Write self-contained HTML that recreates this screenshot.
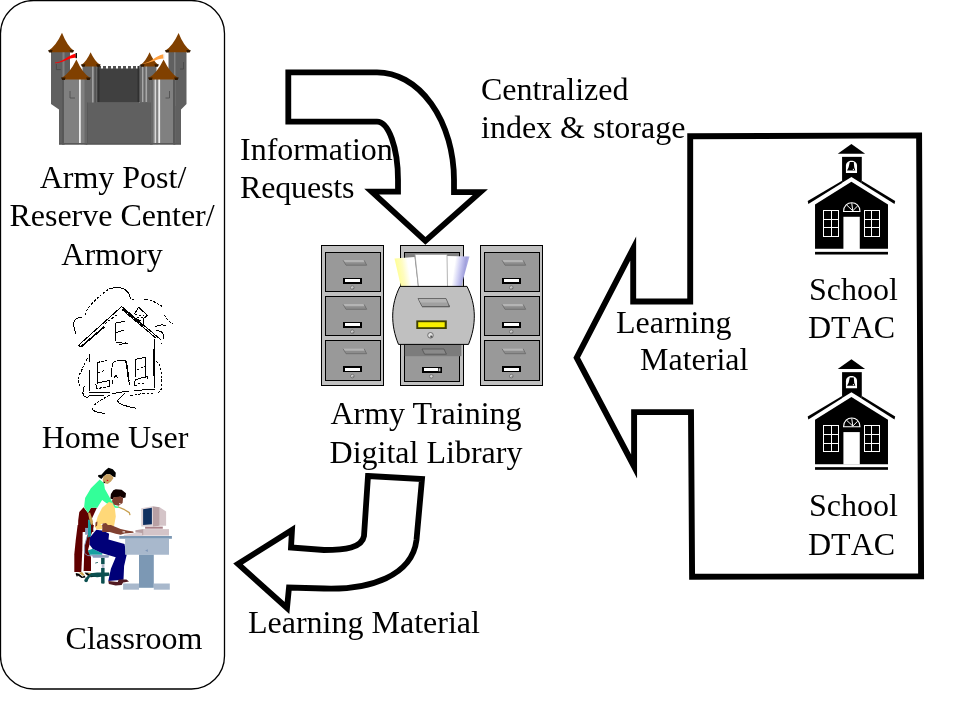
<!DOCTYPE html>
<html>
<head>
<meta charset="utf-8">
<title>Army Training Digital Library</title>
<style>
  html, body { margin: 0; padding: 0; background: #ffffff; }
  body { width: 959px; height: 719px; overflow: hidden; position: relative; font-family: "Liberation Serif", serif; }
  svg { position: absolute; left: 0; top: 0; display: block; }
  text { font-family: "Liberation Serif", serif; font-size: 32px; fill: #000; }
</style>
</head>
<body>
<svg width="959" height="719" viewBox="0 0 959 719">
  <rect x="0" y="0" width="959" height="719" fill="#ffffff"/>

  <!-- ===== left rounded panel ===== -->
  <rect x="0.5" y="0.5" width="224" height="688.5" rx="33" ry="33" fill="none" stroke="#000" stroke-width="1.3"/>


  <!-- ===== CASTLE ===== -->
  <g id="castle" shape-rendering="geometricPrecision">
    <!-- back towers -->
    <path d="M51 51 L70 51 L70 112 L59 112 L59 109.5 L51 104 Z" fill="#606060"/>
    <rect x="62.5" y="51" width="2" height="50" fill="#808080"/>
    <path d="M168.5 51 L186.5 51 L186.5 104 L181 109.5 L181 112 L168.5 112 Z" fill="#606060"/>
    <rect x="174" y="51" width="1.5" height="55" fill="#808080"/>
    <!-- side base blocks -->
    <rect x="59" y="106" width="6" height="38.5" fill="#606060"/>
    <rect x="174" y="106" width="7" height="38.5" fill="#606060"/>
    <!-- inner small towers -->
    <rect x="82.5" y="65" width="16" height="40" fill="#686868"/>
    <rect x="92" y="66" width="1.6" height="37" fill="#a0a0a0"/>
    <rect x="94.6" y="66" width="1.2" height="37" fill="#505050"/>
    <rect x="139.5" y="65" width="17" height="40" fill="#686868"/>
    <rect x="142" y="66" width="1.4" height="36" fill="#a8a8a8"/>
    <rect x="145.5" y="66" width="1.6" height="36" fill="#a8a8a8"/>
    <!-- central dark wall with crenellations -->
    <rect x="97.5" y="68.5" width="42" height="34" fill="#404040"/>
    <path d="M98 69 v-3 h3 v3 h2 v-3 h3 v3 h2 v-3 h3 v3 h2 v-3 h3 v3 h2 v-3 h3 v3 h2 v-3 h3 v3 h2 v-3 h3 v3 h2 v-3 h3 v3 Z" fill="#505050"/>
    <rect x="97.5" y="66" width="2" height="36" fill="#303030"/>
    <rect x="137.5" y="66" width="2" height="36" fill="#303030"/>
    <path d="M98 102 h41 v1.6 h-41 Z" fill="#585858"/>
    <!-- lower front wall -->
    <rect x="86" y="102.5" width="66" height="42" fill="#606060"/>
    <rect x="86" y="102.5" width="1.5" height="42" fill="#505050"/>
    <rect x="150" y="102.5" width="1.5" height="42" fill="#505050"/>
    <!-- front towers -->
    <rect x="62" y="78" width="25" height="66.5" fill="#808080"/>
    <rect x="62" y="78" width="2" height="66.5" fill="#585858"/>
    <rect x="84.5" y="78" width="2.5" height="66.5" fill="#686868"/>
    <rect x="79" y="79" width="1.8" height="65.5" fill="#ececec"/>
    <path d="M70 91 v7 h5" fill="none" stroke="#505050" stroke-width="0.9"/>
    <rect x="150.8" y="78" width="24.5" height="66.5" fill="#808080"/>
    <rect x="150.8" y="78" width="2.2" height="66.5" fill="#686868"/>
    <rect x="173" y="78" width="2.3" height="66.5" fill="#585858"/>
    <rect x="154.6" y="79" width="1.5" height="65.5" fill="#d8d8d8"/>
    <rect x="158.3" y="79" width="1.8" height="65.5" fill="#ececec"/>
    <path d="M169.5 91 v7 h-4" fill="none" stroke="#505050" stroke-width="0.9"/>
    <path d="M56.4 64 v5.6 h4.4" fill="none" stroke="#484848" stroke-width="0.9"/>
    <path d="M183.5 62 v7 h-3.5" fill="none" stroke="#484848" stroke-width="0.9"/>
    <!-- bottom shadow line -->
    <rect x="59" y="143" width="122" height="1.6" fill="#585858"/>
    <!-- roofs (back, inner, front) -->
    <path d="M62.0 32.8 Q56.2 45.6 48.6 50.6 L51.0 52.2 L71.19999999999999 52.2 L73.6 50.6 Q67.0 45.6 62.0 32.8 Z" fill="#804000"/>
    <path d="M48.0 50.2 L52.6 50.0 L51.800000000000004 52.6 L49.2 52.6 Z" fill="#301800"/>
    <path d="M74.19999999999999 50.2 L69.6 50.0 L70.39999999999999 52.6 L73.0 52.6 Z" fill="#301800"/>
    <path d="M178.6 33 Q172.9 45.7 165.4 50.6 L167.8 52.2 L187.9 52.2 L190.3 50.6 Q183.6 45.7 178.6 33 Z" fill="#804000"/>
    <path d="M164.8 50.2 L169.4 50.0 L168.6 52.6 L166.0 52.6 Z" fill="#301800"/>
    <path d="M190.9 50.2 L186.3 50.0 L187.10000000000002 52.6 L189.70000000000002 52.6 Z" fill="#301800"/>
    <path d="M90.6 52.2 Q86.6 61.3 81.4 64.8 L83.80000000000001 66.39999999999999 L97.8 66.39999999999999 L100.2 64.8 Q94.7 61.3 90.6 52.2 Z" fill="#804000"/>
    <path d="M80.80000000000001 64.39999999999999 L85.4 64.2 L84.60000000000001 66.8 L82.0 66.8 Z" fill="#301800"/>
    <path d="M100.8 64.39999999999999 L96.2 64.2 L97.0 66.8 L99.60000000000001 66.8 Z" fill="#301800"/>
    <path d="M149.6 52.2 Q145.7 61.3 140.6 64.8 L143.0 66.39999999999999 L156.0 66.39999999999999 L158.4 64.8 Q153.4 61.3 149.6 52.2 Z" fill="#804000"/>
    <path d="M140.0 64.39999999999999 L144.6 64.2 L143.79999999999998 66.8 L141.2 66.8 Z" fill="#301800"/>
    <path d="M159.0 64.39999999999999 L154.4 64.2 L155.20000000000002 66.8 L157.8 66.8 Z" fill="#301800"/>
    <path d="M76.4 59.4 Q70.0 72.8 61.6 78.0 L64.0 79.6 L87.8 79.6 L90.2 78.0 Q82.3 72.8 76.4 59.4 Z" fill="#804000"/>
    <path d="M61.0 77.6 L65.6 77.4 L64.8 80.0 L62.2 80.0 Z" fill="#301800"/>
    <path d="M90.8 77.6 L86.2 77.4 L87.0 80.0 L89.60000000000001 80.0 Z" fill="#301800"/>
    <path d="M163.6 59.4 Q157.2 72.8 148.6 78.0 L151.0 79.6 L175.79999999999998 79.6 L178.2 78.0 Q169.9 72.8 163.6 59.4 Z" fill="#804000"/>
    <path d="M148.0 77.6 L152.6 77.4 L151.79999999999998 80.0 L149.2 80.0 Z" fill="#301800"/>
    <path d="M178.79999999999998 77.6 L174.2 77.4 L175.0 80.0 L177.6 80.0 Z" fill="#301800"/>
    <!-- flags -->
    <path d="M55 62.6 C62 62.5 66 57 75.5 53.6 L76 57.5 C68 58 63 63 55 63.2 Z" fill="#ff0000"/>
    <rect x="75.6" y="53" width="1.4" height="5.2" fill="#101010"/>
    <path d="M143 63.4 C152 62 155 56 163.5 54.2 L164 58.6 C156 59 152 63 143 63.8 Z" fill="#ffa040"/>
    <rect x="163.4" y="53.8" width="1.2" height="5.2" fill="#f0f0f0"/>
  </g>


  <!-- ===== FILE CABINETS ===== -->
  <g id="cabinets">
    <g>
      <rect x="321.2" y="245.2" width="62.5" height="140.3" fill="#c0c0c0" stroke="#000" stroke-width="1" shape-rendering="crispEdges"/>
      <rect x="325.2" y="252.3" width="54.8" height="39.4" fill="#999999" stroke="#000" stroke-width="1" shape-rendering="crispEdges"/>
      <path d="M343.1 260.0 L363.9 260.0 L366.7 265.2 L346.0 265.2 Z" fill="#8c8c8c"/>
      <path d="M343.1 260.0 L363.9 260.0 L365.1 262.2 L344.4 262.2 Z" fill="#b4b4b4"/>
      <path d="M343.1 260.3 L346.0 265.2 L366.7 265.2 L364.1 260.3" fill="none" stroke="#686868" stroke-width="0.8"/>
      <rect x="342.8" y="277.9" width="19" height="5.9" fill="#000" shape-rendering="crispEdges"/>
      <rect x="344.7" y="279.1" width="15.4" height="3" fill="#fff" shape-rendering="crispEdges"/>
      <circle cx="352.3" cy="287.6" r="1.8" fill="#d0d0d0" stroke="#606060" stroke-width="0.7"/>
      <rect x="352.5" y="287.7" width="1.3" height="1.3" fill="#707070"/>
      <rect x="325.2" y="296.4" width="54.8" height="39.4" fill="#999999" stroke="#000" stroke-width="1" shape-rendering="crispEdges"/>
      <path d="M343.1 304.1 L363.9 304.1 L366.7 309.3 L346.0 309.3 Z" fill="#8c8c8c"/>
      <path d="M343.1 304.1 L363.9 304.1 L365.1 306.3 L344.4 306.3 Z" fill="#b4b4b4"/>
      <path d="M343.1 304.4 L346.0 309.3 L366.7 309.3 L364.1 304.4" fill="none" stroke="#686868" stroke-width="0.8"/>
      <rect x="342.8" y="322.0" width="19" height="5.9" fill="#000" shape-rendering="crispEdges"/>
      <rect x="344.7" y="323.2" width="15.4" height="3" fill="#fff" shape-rendering="crispEdges"/>
      <circle cx="352.3" cy="331.7" r="1.8" fill="#d0d0d0" stroke="#606060" stroke-width="0.7"/>
      <rect x="352.5" y="331.8" width="1.3" height="1.3" fill="#707070"/>
      <rect x="325.2" y="340.8" width="54.8" height="39.4" fill="#999999" stroke="#000" stroke-width="1" shape-rendering="crispEdges"/>
      <path d="M343.1 348.5 L363.9 348.5 L366.7 353.7 L346.0 353.7 Z" fill="#8c8c8c"/>
      <path d="M343.1 348.5 L363.9 348.5 L365.1 350.7 L344.4 350.7 Z" fill="#b4b4b4"/>
      <path d="M343.1 348.8 L346.0 353.7 L366.7 353.7 L364.1 348.8" fill="none" stroke="#686868" stroke-width="0.8"/>
      <rect x="342.8" y="366.4" width="19" height="5.9" fill="#000" shape-rendering="crispEdges"/>
      <rect x="344.7" y="367.6" width="15.4" height="3" fill="#fff" shape-rendering="crispEdges"/>
      <circle cx="352.3" cy="376.1" r="1.8" fill="#d0d0d0" stroke="#606060" stroke-width="0.7"/>
      <rect x="352.5" y="376.2" width="1.3" height="1.3" fill="#707070"/>
    </g>
    <g>
      <rect x="400.2" y="245.2" width="63.3" height="140.3" fill="#c0c0c0" stroke="#000" stroke-width="1" shape-rendering="crispEdges"/>
      <!-- empty top slot -->
      <rect x="404.3" y="252.3" width="55" height="36" fill="#808080" stroke="#000" stroke-width="1" shape-rendering="crispEdges"/>
      <!-- bottom drawer (partly shadowed) -->
      <rect x="404.3" y="344.5" width="55" height="36.6" fill="#999999" stroke="#000" stroke-width="1" shape-rendering="crispEdges"/>
      <rect x="404.8" y="344.6" width="56.6" height="11.6" fill="#7c7c7c"/>
      <path d="M422 349 L444 349 L446.4 354.2 L424.6 354.2 Z" fill="#8a8a8a" stroke="#505050" stroke-width="0.8"/>
      <rect x="422" y="367" width="19.6" height="5.9" fill="#000" shape-rendering="crispEdges"/>
      <rect x="423.6" y="368.3" width="14" height="3" fill="#fff" shape-rendering="crispEdges"/>
      <rect x="438.6" y="368.3" width="1.8" height="3" fill="#c0c0c0"/>
      <circle cx="431.3" cy="376.3" r="1.8" fill="#d0d0d0" stroke="#606060" stroke-width="0.7"/>
    </g>
    <g>
      <rect x="480.2" y="245.2" width="62.5" height="140.3" fill="#c0c0c0" stroke="#000" stroke-width="1" shape-rendering="crispEdges"/>
      <rect x="484.2" y="252.3" width="54.8" height="39.4" fill="#999999" stroke="#000" stroke-width="1" shape-rendering="crispEdges"/>
      <path d="M502.1 260.0 L522.9 260.0 L525.7 265.2 L505.0 265.2 Z" fill="#8c8c8c"/>
      <path d="M502.1 260.0 L522.9 260.0 L524.1 262.2 L503.4 262.2 Z" fill="#b4b4b4"/>
      <path d="M502.1 260.3 L505.0 265.2 L525.7 265.2 L523.1 260.3" fill="none" stroke="#686868" stroke-width="0.8"/>
      <rect x="501.8" y="277.9" width="19" height="5.9" fill="#000" shape-rendering="crispEdges"/>
      <rect x="503.7" y="279.1" width="15.4" height="3" fill="#fff" shape-rendering="crispEdges"/>
      <circle cx="511.3" cy="287.6" r="1.8" fill="#d0d0d0" stroke="#606060" stroke-width="0.7"/>
      <rect x="511.5" y="287.7" width="1.3" height="1.3" fill="#707070"/>
      <rect x="484.2" y="296.4" width="54.8" height="39.4" fill="#999999" stroke="#000" stroke-width="1" shape-rendering="crispEdges"/>
      <path d="M502.1 304.1 L522.9 304.1 L525.7 309.3 L505.0 309.3 Z" fill="#8c8c8c"/>
      <path d="M502.1 304.1 L522.9 304.1 L524.1 306.3 L503.4 306.3 Z" fill="#b4b4b4"/>
      <path d="M502.1 304.4 L505.0 309.3 L525.7 309.3 L523.1 304.4" fill="none" stroke="#686868" stroke-width="0.8"/>
      <rect x="501.8" y="322.0" width="19" height="5.9" fill="#000" shape-rendering="crispEdges"/>
      <rect x="503.7" y="323.2" width="15.4" height="3" fill="#fff" shape-rendering="crispEdges"/>
      <circle cx="511.3" cy="331.7" r="1.8" fill="#d0d0d0" stroke="#606060" stroke-width="0.7"/>
      <rect x="511.5" y="331.8" width="1.3" height="1.3" fill="#707070"/>
      <rect x="484.2" y="340.8" width="54.8" height="39.4" fill="#999999" stroke="#000" stroke-width="1" shape-rendering="crispEdges"/>
      <path d="M502.1 348.5 L522.9 348.5 L525.7 353.7 L505.0 353.7 Z" fill="#8c8c8c"/>
      <path d="M502.1 348.5 L522.9 348.5 L524.1 350.7 L503.4 350.7 Z" fill="#b4b4b4"/>
      <path d="M502.1 348.8 L505.0 353.7 L525.7 353.7 L523.1 348.8" fill="none" stroke="#686868" stroke-width="0.8"/>
      <rect x="501.8" y="366.4" width="19" height="5.9" fill="#000" shape-rendering="crispEdges"/>
      <rect x="503.7" y="367.6" width="15.4" height="3" fill="#fff" shape-rendering="crispEdges"/>
      <circle cx="511.3" cy="376.1" r="1.8" fill="#d0d0d0" stroke="#606060" stroke-width="0.7"/>
      <rect x="511.5" y="376.2" width="1.3" height="1.3" fill="#707070"/>
    </g>
    <!-- papers in open drawer -->
    <defs>
      <linearGradient id="pgY" x1="0" x2="1" y1="0.2" y2="0">
        <stop offset="0" stop-color="#ffff90"/><stop offset="0.3" stop-color="#fffcc0"/><stop offset="0.55" stop-color="#ffffff"/><stop offset="1" stop-color="#ffffff"/>
      </linearGradient>
      <linearGradient id="pgB" x1="0" x2="1" y1="0" y2="0.2">
        <stop offset="0" stop-color="#ffffff"/><stop offset="0.4" stop-color="#ffffff"/><stop offset="0.62" stop-color="#d0d0f4"/><stop offset="0.85" stop-color="#a0a0dc"/><stop offset="1" stop-color="#b8b8ec"/>
      </linearGradient>
    </defs>
    <path d="M394.5 258.5 L414.5 257 L418 287 L401 287 Z" fill="url(#pgY)"/>
    <path d="M447 256 L469.5 256.5 L461 287 L446 287 Z" fill="url(#pgB)"/>
    <path d="M415 254.5 L447 254.5 L447.5 287 L418.5 287 Z" fill="#ffffff" stroke="#a0a0a0" stroke-width="0.8"/>
    <!-- open drawer front -->
    <path d="M400 286.4 L467 286.4 C476.5 305 476.5 325 468.5 344.4 L398.5 344.4 C390.5 325 390.5 305 400 286.4 Z" fill="#c0c0c0" stroke="#000" stroke-width="1"/>
    <path d="M418 298.5 L446 298.5 L449.5 306.5 L422 306.5 Z" fill="#a0a0a0" stroke="#585858" stroke-width="0.8"/>
    <path d="M418.6 299 L445.6 299 L447 302.4 L420.6 302.4 Z" fill="#b4b4b4"/>
    <path d="M422 306.8 L449.6 306.8 L448.6 304.6" stroke="#606060" stroke-width="1" fill="none"/>
    <rect x="416.3" y="320.4" width="30.5" height="8.6" fill="#404000"/>
    <rect x="418.2" y="322.2" width="26.5" height="5" fill="#f8f000"/>
    <circle cx="430.5" cy="335.3" r="2.8" fill="#e0e0e0" stroke="#585858" stroke-width="0.8"/>
    <rect x="430.3" y="335.6" width="2" height="2" fill="#505050"/>
  </g>


  <!-- ===== SCHOOLS ===== -->


  <!-- ===== HOUSE SKETCH ===== -->
  <g id="house" fill="none" stroke="#000" stroke-width="1" stroke-linecap="butt" stroke-linejoin="round" shape-rendering="crispEdges">
    <path d="M78.4 345.4 L121.7 306.5 L161.1 340.0"/>
    <path d="M121.7 309.3 L155.6 337.8"/>
    <path d="M78.4 345.4 L81.4 347.0"/>
    <path d="M134.3 314.2 L138.6 307.3 L147.4 315.3 L143.8 318.3 L143.1 324.8"/>
    <path d="M138.1 319.1 L140.3 320.8"/>
    <path d="M125.0 321.3 L115.8 323.1 L115.3 341.3"/>
    <path d="M115.8 332.5 L123.9 330.3"/>
    <path d="M116.2 342.8 L127.7 343.2"/>
    <path d="M119.5 344.6 L126.1 342.8"/>
    <path d="M155.1 327.0 Q158.9 324.6 162.3 324.9 L165.7 325.3"/>
    <path d="M155.6 330.1 Q161.1 331.2 162.5 332.8 Q163.9 334.5 163.9 337.0 L163.8 339.5"/>
    <path d="M75.7 333.6 Q72.8 324.6 74.2 321.4 Q75.7 318.3 79.0 317.6 L82.2 317.0"/>
    <path d="M108.5 289.1 Q114.0 287.4 117.3 287.4 Q120.6 287.4 123.3 288.7 Q126.1 290.0 127.7 292.0 Q129.3 294.0 129.9 296.7 L130.4 299.4"/>
    <path d="M144.1 299.4 L148.2 299.4"/>
    <path d="M154.5 338.9 L154.1 353.1"/>
    <path d="M81.1 344.9 L81.4 347.4"/>
    <path d="M89.7 354.3 L89.7 362.0"/>
    <path d="M89.4 370.2 L89.4 391.0"/>
    <path d="M84.4 385.7 Q82.7 391.0 83.0 393.5 Q83.3 396.0 85.3 396.8 Q87.3 397.6 88.4 396.7 L89.5 395.8"/>
    <path d="M89.4 392.3 L109.6 392.3"/>
    <path d="M89.5 395.4 L104.1 395.2"/>
    <path d="M111.8 393.8 Q119.5 392.1 124.0 391.8 L128.5 391.4"/>
    <path d="M133.7 391.0 L144.7 389.7 L154.7 389.0"/>
    <path d="M154.5 361.4 L154.7 387.9"/>
    <path d="M97.4 362.5 L97.4 383.6"/>
    <path d="M97.6 382.9 L109.6 380.6 L109.6 386.6"/>
    <path d="M95.9 384.0 L96.5 389.5"/>
    <path d="M111.6 376.8 Q111.6 363.1 113.9 361.8 Q116.2 360.6 121.1 360.8 L126.1 361.0"/>
    <path d="M128.9 381.4 L129.6 384.6"/>
    <path d="M112.4 380.0 L112.4 383.6"/>
    <path d="M114.0 377.9 L115.8 375.2 L117.9 377.9"/>
    <path d="M135.7 376.8 L135.7 359.2 L145.2 357.3 L145.8 377.0"/>
    <path d="M134.8 380.3 Q140.3 377.9 143.9 377.3 L147.5 376.8"/>
    <path d="M147.5 376.5 L147.7 378.5"/>
    <path d="M134.6 380.6 L134.6 385.3 L136.6 385.5"/>
    <path d="M92.3 407.7 Q92.6 410.3 94.7 411.2 Q96.7 412.0 100.7 412.8 L104.8 413.6"/>
    <path d="M125.0 393.2 Q118.6 398.7 117.9 400.3 Q117.3 402.0 120.0 403.6 Q122.8 405.2 129.3 406.8 L135.9 408.3"/>
    <g stroke-width="1.6">
      <path d="M81.1 346.7 L104.1 327.0"/>
      <path d="M122.8 308.4 L143.6 325.7"/>
      <path d="M153.8 349.4 L153.9 375.9"/>
      <path d="M126.1 361.0 L127.8 372.6 L128.9 381.4"/>
    </g>
    <g stroke-dasharray="2.4 1.6">
      <path d="M105.2 323.7 L118.4 313.4"/>
      <path d="M134.8 314.8 L143.6 315.4"/>
      <path d="M136.5 317.2 L143.8 317.2"/>
      <path d="M85.0 314.8 Q86.1 310.4 90.2 305.7 Q94.3 301.1 97.6 298.1 Q100.9 295.0 104.7 292.1 L108.5 289.1"/>
      <path d="M132.1 299.4 L133.7 299.6"/>
      <path d="M149.6 300.0 Q155.6 302.2 159.5 304.7 L163.3 307.3"/>
      <path d="M164.4 314.8 Q166.6 319.4 169.6 321.6 L172.7 323.7"/>
      <path d="M161.1 342.7 L161.8 344.3"/>
      <path d="M87.5 358.4 Q84.4 363.6 83.1 367.0 Q81.7 370.4 80.0 373.6 Q78.4 376.8 78.1 379.5 Q77.9 382.2 79.5 384.9 L81.1 387.5"/>
      <path d="M156.3 361.4 Q160.7 364.9 160.9 368.7 Q161.1 372.4 161.4 375.7 Q161.8 379.0 161.8 383.9 Q161.8 388.8 160.3 390.8 Q158.9 392.8 157.3 393.0 L155.6 393.2"/>
      <path d="M146.9 393.2 L154.7 393.2"/>
      <path d="M130.4 396.0 Q138.1 394.3 141.4 393.7 L144.7 393.2"/>
      <path d="M97.4 362.5 L107.0 360.3"/>
      <path d="M98.1 373.0 L103.7 370.6"/>
      <path d="M109.6 386.6 L96.7 388.6"/>
      <path d="M137.0 369.8 L144.7 366.5"/>
      <path d="M138.1 384.0 L143.8 383.3"/>
      <path d="M109.6 395.4 Q100.9 399.8 97.0 402.8 L93.2 405.9"/>
    </g>
  </g>


  <!-- ===== CLASSROOM CLIPART ===== -->
  <g id="classroom">
    <path d="M83.6 507.3 L79.3 511.9 L78.2 520.4 L78.0 532.0 L93.4 532.0 L93.0 524.3 L91.0 520.4 L96.9 507.8 L90.9 507.8 L88.0 513.1 Z" fill="#600000"/>
    <path d="M77.6 525.0 L82.8 525.0 L82.3 550.3 L81.3 571.9 L74.3 571.9 L74.3 554.2 L75.8 539.6 Z" fill="#600000"/>
    <path d="M90.8 525.0 L93.9 525.0 L92.6 530.8 L90.0 537.8 L89.5 544.5 L88.1 549.8 L91.0 557.3 L91.0 570.9 L83.6 570.9 L84.2 554.2 L84.6 545.4 L87.1 536.5 Z" fill="#600000"/>
    <path d="M85.1 527.9 L88.1 527.9 L88.1 534.7 L85.1 534.7 Z" fill="#8c9cbc"/>
    <path d="M88.0 519.4 L90.6 520.6 L90.9 532.0 L88.0 532.0 Z" fill="#18a0a0"/>
    <path d="M88.0 525.0 L91.0 525.0 L91.0 535.9 L88.1 537.6 Z" fill="#18a0a0"/>
    <path d="M87.1 536.5 L84.6 545.4 L84.6 553.4 L87.7 555.6 L92.6 555.7" fill="none" stroke="#8c9cbc" stroke-width="0.9" stroke-linecap="round" stroke-linejoin="round"/>
    <path d="M75.8 572.9 L79.0 573.7 L82.5 576.8 L84.6 575.6 L85.6 577.5 L81.7 578.0 L77.8 575.6 L77.0 577.1 L75.8 574.6 Z" fill="#000000"/>
    <path d="M84.6 572.5 L91.0 573.1 L93.4 574.1 L96.8 576.6 L90.9 577.3 L87.5 575.6 L85.6 574.1 Z" fill="#000000"/>
    <path d="M78.6 572.7 L82.1 572.1 L84.8 575.2 L82.8 575.8 Z" fill="#c8a050"/>
    <path d="M87.3 573.1 L90.8 572.9 L93.0 574.4 L90.0 574.8 Z" fill="#c8a050"/>
    <path d="M87.9 550.5 L92.6 548.8 L102.3 553.2 L102.3 554.8 L89.5 554.8 Z" fill="#18a0a0"/>
    <path d="M91.9 554.8 L109.1 555.2 L108.5 557.7 L93.0 557.7 Z" fill="#8c9cbc"/>
    <path d="M101.1 557.9 L104.6 557.9 L104.6 564.1 L101.1 564.1 Z" fill="#0c5050"/>
    <path d="M101.7 564.1 L104.4 564.1 L104.4 568.0 L101.7 568.0 Z" fill="#b0b8c8"/>
    <path d="M101.1 568.0 L104.6 568.0 L104.6 583.4 L101.1 583.4 Z" fill="#0c5050"/>
    <path d="M84.6 579.3 L87.1 576.6 L90.8 573.3 L97.2 572.5 L109.1 572.5 L109.5 575.8 L97.2 577.2 L91.6 576.4 L89.5 577.5 L87.5 580.7 Z" fill="#0c5050"/>
    <circle cx="86.1" cy="580.5" r="1.8" fill="#0c5050"/>
    <path d="M95.1 562.8 L97.8 562.0 L98.0 562.8 L95.3 563.5 Z" fill="#0c5050"/>
    <path d="M102.1 581.0 L104.1 581.0 L103.9 583.4 L102.3 583.4 Z" fill="#0c5050"/>
    <path d="M96.3 529.7 L103.3 530.8 L109.1 533.8 L108.5 539.6 L124.5 543.9 L126.6 555.2 L124.1 565.9 L123.5 579.7 L108.3 581.0 L110.9 568.8 L115.7 557.3 L102.3 553.2 L92.6 548.8 L89.5 544.5 L89.9 537.6 Z" fill="#000078"/>
    <path d="M108.3 581.0 L117.7 582.0 L118.7 579.5 L126.4 579.5 L129.0 581.4 L123.1 582.6 L121.6 584.9 L115.7 585.5 L108.9 584.0 Z" fill="#501820"/>
    <path d="M99.7 479.5 L103.9 482.9 L104.9 489.1 L110.4 498.8 L112.1 501.4 L115.8 506.3 L118.7 506.6 L118.7 508.0 L115.0 507.8 L108.5 504.8 L102.1 500.0 L97.3 507.8 L90.9 507.8 L88.0 513.0 L84.1 507.0 L85.1 498.0 L90.9 488.3 Z" fill="#33ff99"/>
    <path d="M88.0 513.1 L90.1 512.6 L93.0 521.4 L92.4 525.3 L90.8 524.3 L89.1 518.5 Z" fill="#c8a050"/>
    <path d="M118.4 507.0 L124.6 509.7 L129.3 512.6 L129.9 514.7" fill="none" stroke="#c8a050" stroke-width="1.3" stroke-linecap="round" stroke-linejoin="round"/>
    <path d="M108.5 467.8 L112.8 469.2 L115.8 472.7 L115.4 477.2 L112.8 476.6 L109.9 474.2 L106.5 474.2 L103.6 476.6 L101.4 479.1 L98.2 476.8 L98.2 475.0 L101.4 474.7 L105.1 470.4 Z" fill="#000000"/>
    <path d="M106.5 474.2 L109.9 474.2 L112.8 476.6 L113.4 478.2 L110.9 481.5 L107.6 484.0 L104.1 482.9 L102.6 480.1 L103.6 476.6 Z" fill="#c8a060"/>
    <path d="M106.8 479.7 L108.4 479.9 L108.0 481.1 L106.8 480.9 Z" fill="#e00020"/>
    <path d="M103.6 481.5 L105.1 482.0 L104.6 483.2 L103.4 482.6 Z" fill="#000000"/>
    <path d="M108.9 501.9 L112.5 502.9 L114.8 507.8 L115.8 516.5 L114.0 526.3 L108.9 527.0 L104.1 522.9 L101.2 524.3 L96.5 528.4 L94.7 526.8 L97.7 516.5 L102.1 507.8 Z" fill="#ffd878"/>
    <path d="M95.5 525.0 L102.1 525.0 L102.1 528.9 L96.3 529.7 Z" fill="#ffd878"/>
    <path d="M102.6 523.5 L106.0 522.9 L109.1 526.3 L114.0 529.2 L120.6 530.2 L126.0 532.0 L102.1 532.0 Z" fill="#804030"/>
    <path d="M102.1 525.0 L110.9 525.0 L120.6 529.1 L128.4 530.8 L133.2 531.4 L133.7 532.8 L124.5 533.6 L120.6 534.7 L115.7 533.8 L108.9 531.8 L103.1 528.9 Z" fill="#804030"/>
    <path d="M122.5 531.4 L125.1 531.4 L125.1 532.4 L122.5 532.4 Z" fill="#ffffff"/>
    <path d="M95.5 522.4 L97.5 521.4 L97.1 525.3 L95.5 527.0 Z" fill="#804030"/>
    <path d="M115.8 489.3 L121.6 489.7 L126.0 493.2 L125.5 497.6 L123.1 498.0 L120.6 496.7 L113.8 497.6 L112.8 499.6 L110.4 498.6 L110.9 494.1 L113.3 490.2 Z" fill="#100000"/>
    <path d="M113.6 497.2 L120.8 496.5 L123.1 498.0 L122.6 502.9 L118.7 505.8 L114.0 504.8 L111.9 501.1 L112.8 499.4 Z" fill="#804030"/>
    <path d="M119.2 503.1 L120.6 503.3 L120.4 504.5 L119.2 504.3 Z" fill="#ffffff"/>
    <path d="M119.3 535.9 L171.9 535.9 L171.9 538.7 L119.3 538.7 Z" fill="#7c98b4"/>
    <path d="M125.1 538.7 L169.0 538.7 L169.0 554.7 L125.1 554.7 Z" fill="#a8b8cc"/>
    <path d="M139.0 554.7 L153.8 554.7 L153.8 587.8 L139.0 587.8 Z" fill="#7c98b4"/>
    <path d="M123.1 583.5 L139.0 583.5 L139.0 589.7 L123.1 589.7 Z" fill="#a8b8cc"/>
    <path d="M153.8 583.5 L169.8 583.5 L169.8 589.7 L153.8 589.7 Z" fill="#a8b8cc"/>
    <path d="M145.1 550.5 L147.8 549.2 L147.8 551.9 Z" fill="#8098b8"/>
    <path d="M143.6 529.1 L169.0 529.1 L169.0 535.6 L143.6 535.6 Z" fill="#d4c4c8"/>
    <path d="M135.4 530.3 L143.6 529.1 L143.6 535.6 L142.0 535.6 L142.0 533.0 L135.4 532.6 Z" fill="#b8a0a4"/>
    <path d="M123.7 535.0 L135.0 533.0 L142.2 533.0 L142.2 535.9 L123.7 535.9 Z" fill="#dcd0d4"/>
    <path d="M145.1 526.6 L162.8 526.6 L162.8 528.7 L145.1 528.7 Z" fill="#a88088"/>
    <path d="M159.7 507.2 L166.1 511.6 L166.1 525.8 L159.7 525.8 Z" fill="#d4c4c8"/>
    <path d="M152.4 506.2 L159.7 507.2 L159.7 525.8 L152.9 526.4 Z" fill="#b8a0a4"/>
    <path d="M141.2 508.3 L152.4 506.2 L152.9 526.4 L141.2 526.4 Z" fill="#dcd0d4"/>
    <path d="M143.1 509.3 L151.9 507.7 L151.9 524.3 L143.1 524.9 Z" fill="#103060"/>
  </g>

  <!-- ===== ARROWS ===== -->
  <g id="arrows" fill="#ffffff" stroke="#000" stroke-width="5.8" stroke-linejoin="miter" stroke-miterlimit="10">
    <!-- information requests: curved down arrow -->
    <path d="M288.3 72.3 L377 72.3 A77 108 0 0 1 454 180 L454 192.2 L480.3 192.2 L425.4 240.9 L371.7 191.6 L398 191.6 L398 180 A21 58.3 0 0 0 377 121.7 L288.3 121.7 Z"/>
    <!-- big left arrow from schools -->
    <path d="M690.2 136.2 L919.1 135.4 L921.1 576.2 L692.1 576.8 L691 412.1 L634.1 412.1 L634.1 466.5 L576.7 357.7 L633.2 248.5 L633.2 301.5 L690.2 301.5 Z" stroke-width="5.9"/>
    <!-- bottom curved arrow -->
    <path d="M368 476 L422 479 L416.5 540 C412 576 370 590 324 588.5 L289 587.5 L287 608 L238 564 L292 530 L291 547.5 L324 550 C345 550 362 548 364 536 Z"/>
  </g>

  <!-- school instances -->
  <g id="school1">
      <!-- cupola roof -->
      <path d="M851.43 144.01 L865.12 153.69 L837.74 153.69 Z" fill="#000"/>
      <!-- tower -->
      <rect x="842.08" y="156.86" width="19.7" height="26.88" fill="#000"/>
      <!-- bell window -->
      <path d="M845.93 172.99 L845.93 165.86 C845.93 159.12 857.03 159.12 857.03 165.86 L857.03 172.99 Z" fill="#fff"/>
      <path d="M849.8 162.09 L853.76 162.09 L854.26 167.34 L855.35 170.42 L847.02 170.42 L848.61 167.34 Z" fill="#000"/>
      <rect x="852.87" y="168.83" width="1.1" height="1.1" fill="#fff"/>
      <!-- white chevron over tower base -->
      <path d="M851.43 176.89 L895.5 204.27 L887.99 205.11 L851.43 182.4 L815.03 205.11 L807.35 204.27 Z" fill="#fff"/>
      <!-- roof outer band -->
      <path d="M842.08 180.73 L842.08 182.9 L808.36 204.11 L807.69 201.1 Z" fill="#000"/>
      <path d="M861.78 180.73 L861.78 183.41 L894.5 204.11 L895.17 201.1 Z" fill="#000"/>
      <!-- body -->
      <path d="M851.43 181.74 L887.99 204.44 L887.99 248.85 L815.03 248.85 L815.03 204.44 Z" fill="#000"/>
      <!-- door -->
      <rect x="843.41" y="216.79" width="16.36" height="32.39" fill="#fff"/>
      <!-- fan light -->
      <path d="M843.58 211.45 C843.58 199.77 859.94 199.77 859.94 211.45 Z" fill="#000" stroke="#fff" stroke-width="1.1"/>
      <path d="M852.76 210.78 L851.76 203.11 M852.76 210.78 L846.42 204.77 M852.76 210.78 L857.77 205.78" stroke="#fff" stroke-width="1" fill="none"/>
      <!-- windows -->
      <g fill="none" stroke="#fff" stroke-width="1" shape-rendering="crispEdges">
        <rect x="823.38" y="210.45" width="15.36" height="26.04"/>
        <path d="M831.06 210.45 V236.49 M823.38 219.13 H838.74 M823.38 227.81 H838.74"/>
        <rect x="864.28" y="210.45" width="15.36" height="26.04"/>
        <path d="M871.96 210.45 V236.49 M864.28 219.13 H879.64 M864.28 227.81 H879.64"/>
      </g>
      <!-- ground line -->
      <rect x="815.03" y="251.85" width="72.95" height="2.67" fill="#000"/>
  </g>
  <g id="school2" transform="translate(0,215.3)">
      <!-- cupola roof -->
      <path d="M851.43 144.01 L865.12 153.69 L837.74 153.69 Z" fill="#000"/>
      <!-- tower -->
      <rect x="842.08" y="156.86" width="19.7" height="26.88" fill="#000"/>
      <!-- bell window -->
      <path d="M845.93 172.99 L845.93 165.86 C845.93 159.12 857.03 159.12 857.03 165.86 L857.03 172.99 Z" fill="#fff"/>
      <path d="M849.8 162.09 L853.76 162.09 L854.26 167.34 L855.35 170.42 L847.02 170.42 L848.61 167.34 Z" fill="#000"/>
      <rect x="852.87" y="168.83" width="1.1" height="1.1" fill="#fff"/>
      <!-- white chevron over tower base -->
      <path d="M851.43 176.89 L895.5 204.27 L887.99 205.11 L851.43 182.4 L815.03 205.11 L807.35 204.27 Z" fill="#fff"/>
      <!-- roof outer band -->
      <path d="M842.08 180.73 L842.08 182.9 L808.36 204.11 L807.69 201.1 Z" fill="#000"/>
      <path d="M861.78 180.73 L861.78 183.41 L894.5 204.11 L895.17 201.1 Z" fill="#000"/>
      <!-- body -->
      <path d="M851.43 181.74 L887.99 204.44 L887.99 248.85 L815.03 248.85 L815.03 204.44 Z" fill="#000"/>
      <!-- door -->
      <rect x="843.41" y="216.79" width="16.36" height="32.39" fill="#fff"/>
      <!-- fan light -->
      <path d="M843.58 211.45 C843.58 199.77 859.94 199.77 859.94 211.45 Z" fill="#000" stroke="#fff" stroke-width="1.1"/>
      <path d="M852.76 210.78 L851.76 203.11 M852.76 210.78 L846.42 204.77 M852.76 210.78 L857.77 205.78" stroke="#fff" stroke-width="1" fill="none"/>
      <!-- windows -->
      <g fill="none" stroke="#fff" stroke-width="1" shape-rendering="crispEdges">
        <rect x="823.38" y="210.45" width="15.36" height="26.04"/>
        <path d="M831.06 210.45 V236.49 M823.38 219.13 H838.74 M823.38 227.81 H838.74"/>
        <rect x="864.28" y="210.45" width="15.36" height="26.04"/>
        <path d="M871.96 210.45 V236.49 M864.28 219.13 H879.64 M864.28 227.81 H879.64"/>
      </g>
      <!-- ground line -->
      <rect x="815.03" y="251.85" width="72.95" height="2.67" fill="#000"/>
  </g>

  <!-- ===== TEXT ===== -->
  <g id="labels" style="filter:grayscale(1)">
    <text x="113" y="188" text-anchor="middle">Army Post/</text>
    <text x="112" y="226" text-anchor="middle">Reserve Center/</text>
    <text x="112" y="265" text-anchor="middle">Armory</text>
    <text x="115" y="448" text-anchor="middle">Home User</text>
    <text x="134" y="649" text-anchor="middle">Classroom</text>

    <text x="240" y="159.8">Information</text>
    <text x="240" y="198" textLength="114.5" lengthAdjust="spacing">Requests</text>
    <text x="481" y="100">Centralized</text>
    <text x="481" y="138">index &amp; storage</text>

    <text x="426" y="424" text-anchor="middle">Army Training</text>
    <text x="426" y="463" text-anchor="middle">Digital Library</text>
    <text x="248" y="633">Learning Material</text>

    <text x="616" y="333">Learning</text>
    <text x="640" y="370">Material</text>

    <text x="809" y="300">School</text>
    <text x="808" y="338" style="font-kerning:none">DTAC</text>
    <text x="809" y="516">School</text>
    <text x="808" y="555" style="font-kerning:none">DTAC</text>
  </g>
</svg>
</body>
</html>
